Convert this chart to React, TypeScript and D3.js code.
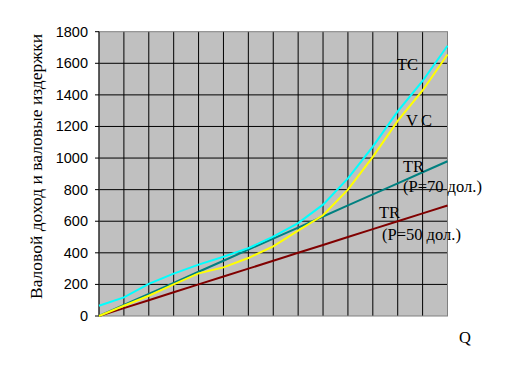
import React from "react";
import * as d3 from "d3";

const Q = [0, 1, 2, 3, 4, 5, 6, 7, 8, 9, 10, 11, 12, 13, 14];
const TC = [65, 118, 203, 268, 325, 375, 430, 502, 588, 705, 871, 1072, 1295, 1488, 1711];
const VC = [0, 65, 128, 200, 270, 308, 367, 441, 540, 638, 800, 1008, 1235, 1428, 1656];
const TR70 = [0, 70, 140, 210, 280, 350, 420, 490, 560, 630, 700, 770, 840, 910, 980];
const TR50 = [0, 50, 100, 150, 200, 250, 300, 350, 400, 450, 500, 550, 600, 650, 700];
const yTicks = [0, 200, 400, 600, 800, 1000, 1200, 1400, 1600, 1800];

const W = 529, H = 376;
const L = 99, R = 447.5, T = 31.7, B = 316;

export default function App() {
  const x = d3.scaleLinear().domain([0, 14]).range([L, R]);
  const y = d3.scaleLinear().domain([0, 1800]).range([B, T]);
  const line = (vals: number[]) =>
    d3.line<number>().x((_, i) => x(Q[i])).y((v) => y(v))(vals) || "";
  const serif = "'Liberation Serif', 'Times New Roman', serif";
  const sans = "'Liberation Sans', Arial, sans-serif";
  return (
    <svg width={W} height={H} style={{ position: "absolute", left: 0, top: 0, background: "#fff" }}>
      <rect x={L} y={T} width={R - L} height={B - T} fill="#C0C0C0" />
      {Q.slice(1, -1).map((q) => (
        <line key={"v" + q} x1={x(q)} x2={x(q)} y1={T} y2={B} stroke="#000" strokeWidth={1} />
      ))}
      {yTicks.slice(1, -1).map((t) => (
        <line key={"h" + t} x1={L} x2={R} y1={y(t)} y2={y(t)} stroke="#000" strokeWidth={1} />
      ))}
      <rect x={L} y={T} width={R - L} height={B - T} fill="none" stroke="#808080" strokeWidth={1} />
      <line x1={L} x2={L} y1={T} y2={B} stroke="#000" strokeWidth={1} />
      {yTicks.map((t) => (
        <g key={"t" + t}>
          <line x1={L - 4} x2={L} y1={y(t)} y2={y(t)} stroke="#000" strokeWidth={1} />
          <text x={88} y={y(t) + 5} textAnchor="end" fontFamily={sans} fontSize={14.5} fill="#000">
            {t}
          </text>
        </g>
      ))}
      <path d={line(TR50)} fill="none" stroke="#800000" strokeWidth={2} />
      <path d={line(TR70)} fill="none" stroke="#008080" strokeWidth={2} />
      <path d={line(VC)} fill="none" stroke="#FFFF00" strokeWidth={2} />
      <path d={line(TC)} fill="none" stroke="#00FFFF" strokeWidth={2} />
      <g fontFamily={serif} fontSize={16.5} fill="#000">
        <text x={397} y={70}>TC</text>
        <text x={406} y={126} letterSpacing={3}>VC</text>
        <text x={403} y={172}>TR</text>
        <text x={403} y={192}>(P=70 дол.)</text>
        <text x={379} y={218}>TR</text>
        <text x={382} y={240}>(P=50 дол.)</text>
        <text x={459} y={343}>Q</text>
        <text transform={`translate(42,299) rotate(-90)`} x={0} y={0} fontSize={17.5}>
          Валовой доход и валовые издержки
        </text>
      </g>
    </svg>
  );
}
